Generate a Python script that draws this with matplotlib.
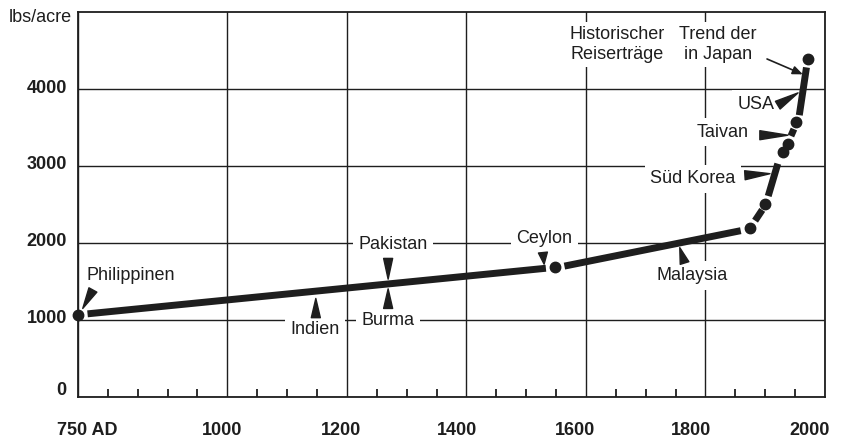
import numpy as np
import matplotlib.pyplot as plt
import matplotlib.transforms as mtransforms

# Reiserträge (lbs/acre) - Kurve in Stücken (durchgezogen + gestrichelt)
line_years = [[766, 1533], [1564, 1859], [1883, 1895], [1905, 1921], [1943, 1948], [1957, 1969]]
line_yields = [[1080, 1672], [1700, 2160], [2290, 2430], [2610, 3030], [3390, 3480], [3660, 4280]]
dot_years = [750, 1549, 1874, 1900, 1929, 1938, 1952, 1971]
dot_yields = [1070, 1685, 2190, 2510, 3180, 3290, 3570, 4390]

x_ticks = [750, 1000, 1200, 1400, 1600, 1800, 2000]
x_ticklabels = ["750 AD", "1000", "1200", "1400", "1600", "1800", "2000"]
y_ticks = [0, 1000, 2000, 3000, 4000]

countries = ["Philippinen", "Indien", "Pakistan", "Burma", "Ceylon",
             "Malaysia", "Süd Korea", "Taivan", "USA"]
country_text = [(839, 1580), (1147, 880), (1277, 1980), (1269, 1000), (1530, 2060),
                (1777, 1578), (1779, 2833), (1828, 3441), (1884, 3803)]
wedge_base = [(775, 1390), (1148, 1030), (1269, 1800), (1269, 1150), (1528, 1876),
              (1765, 1740), (1866, 2880), (1891, 3400), (1921, 3790)]
wedge_tip = [(758, 1150), (1148, 1280), (1269, 1530), (1269, 1405), (1530, 1725),
             (1757, 1940), (1908, 2900), (1938, 3400), (1955, 3950)]

plt.rcParams['font.family'] = ['Liberation Sans', 'DejaVu Sans']
ink = '#1e1e1e'

fig = plt.figure(figsize=(8.42, 4.38), dpi=100)
ax = fig.add_axes([0.0926, 0.0936, 0.8872, 0.879])
ax.set_xlim(750, 2000)
ax.set_ylim(0, 5000)

# Gitter
ax.set_xticks(x_ticks)
ax.set_xticklabels(x_ticklabels, fontsize=13, fontweight='bold', color=ink)
ax.set_yticks(y_ticks)
ax.set_yticklabels([str(v) for v in y_ticks], fontsize=13, fontweight='bold', color=ink)
ax.set_xticks(np.arange(800, 2000, 50), minor=True)
ax.tick_params(axis='x', which='major', length=0, pad=18)
ax.tick_params(axis='y', which='major', length=0, pad=8)
ax.tick_params(axis='x', which='minor', direction='in', length=6, width=1.3, color=ink)
ax.grid(True, which='major', color=ink, linewidth=1.0, zorder=1)
ax.set_axisbelow(True)
for s in ax.spines.values():
    s.set_linewidth(1.3)
    s.set_color(ink)

# Tick-Beschriftungen leicht versetzt wie im Original
x_shift = [9, -5, -6, -9, -11, -14, -15]
for lab, dx in zip(ax.get_xticklabels(), x_shift):
    lab.set_transform(lab.get_transform() + mtransforms.ScaledTranslation(dx / 100, 0, fig.dpi_scale_trans))
y_shift = [9, 4, 4, 4, 3]
for lab, dy in zip(ax.get_yticklabels(), y_shift):
    lab.set_transform(lab.get_transform() + mtransforms.ScaledTranslation(0, dy / 100, fig.dpi_scale_trans))

# Kurve
for xs, ys in zip(line_years, line_yields):
    ax.plot(xs, ys, color=ink, linewidth=5, solid_capstyle='butt', zorder=4)
ax.plot(dot_years, dot_yields, 'o', color=ink, markersize=7.5, zorder=4, clip_on=False)

# Länderbeschriftungen mit Keilpfeilen
for name, (tx, ty), base, tip in zip(countries, country_text, wedge_base, wedge_tip):
    ax.text(tx, ty, name, fontsize=13, color=ink, ha='center', va='center', zorder=3,
            bbox=dict(facecolor='white', edgecolor='none', pad=4))
    ax.annotate('', xy=tip, xytext=base, zorder=5,
                arrowprops=dict(arrowstyle='wedge,tail_width=0.65', fc=ink, ec=ink,
                                shrinkA=0, shrinkB=0))

ax.text(1653, 4580, "Historischer\nReiserträge", fontsize=13, color=ink, ha='center', va='center',
        linespacing=1.25, zorder=3, bbox=dict(facecolor='white', edgecolor='none', pad=3))
ax.text(1821, 4580, "Trend der\nin Japan", fontsize=13, color=ink, ha='center', va='center',
        linespacing=1.25, zorder=3, bbox=dict(facecolor='white', edgecolor='none', pad=3))
ax.annotate('', xy=(1963, 4190), xytext=(1903, 4390), zorder=5,
            arrowprops=dict(arrowstyle='-|>,head_length=0.6,head_width=0.25', color=ink,
                            lw=1.2, shrinkA=0, shrinkB=0))

fig.text(40 / 842, 1 - 17 / 438, "lbs/acre", fontsize=13, color=ink, ha='center', va='center')

fig.savefig('out.png', dpi=100)
